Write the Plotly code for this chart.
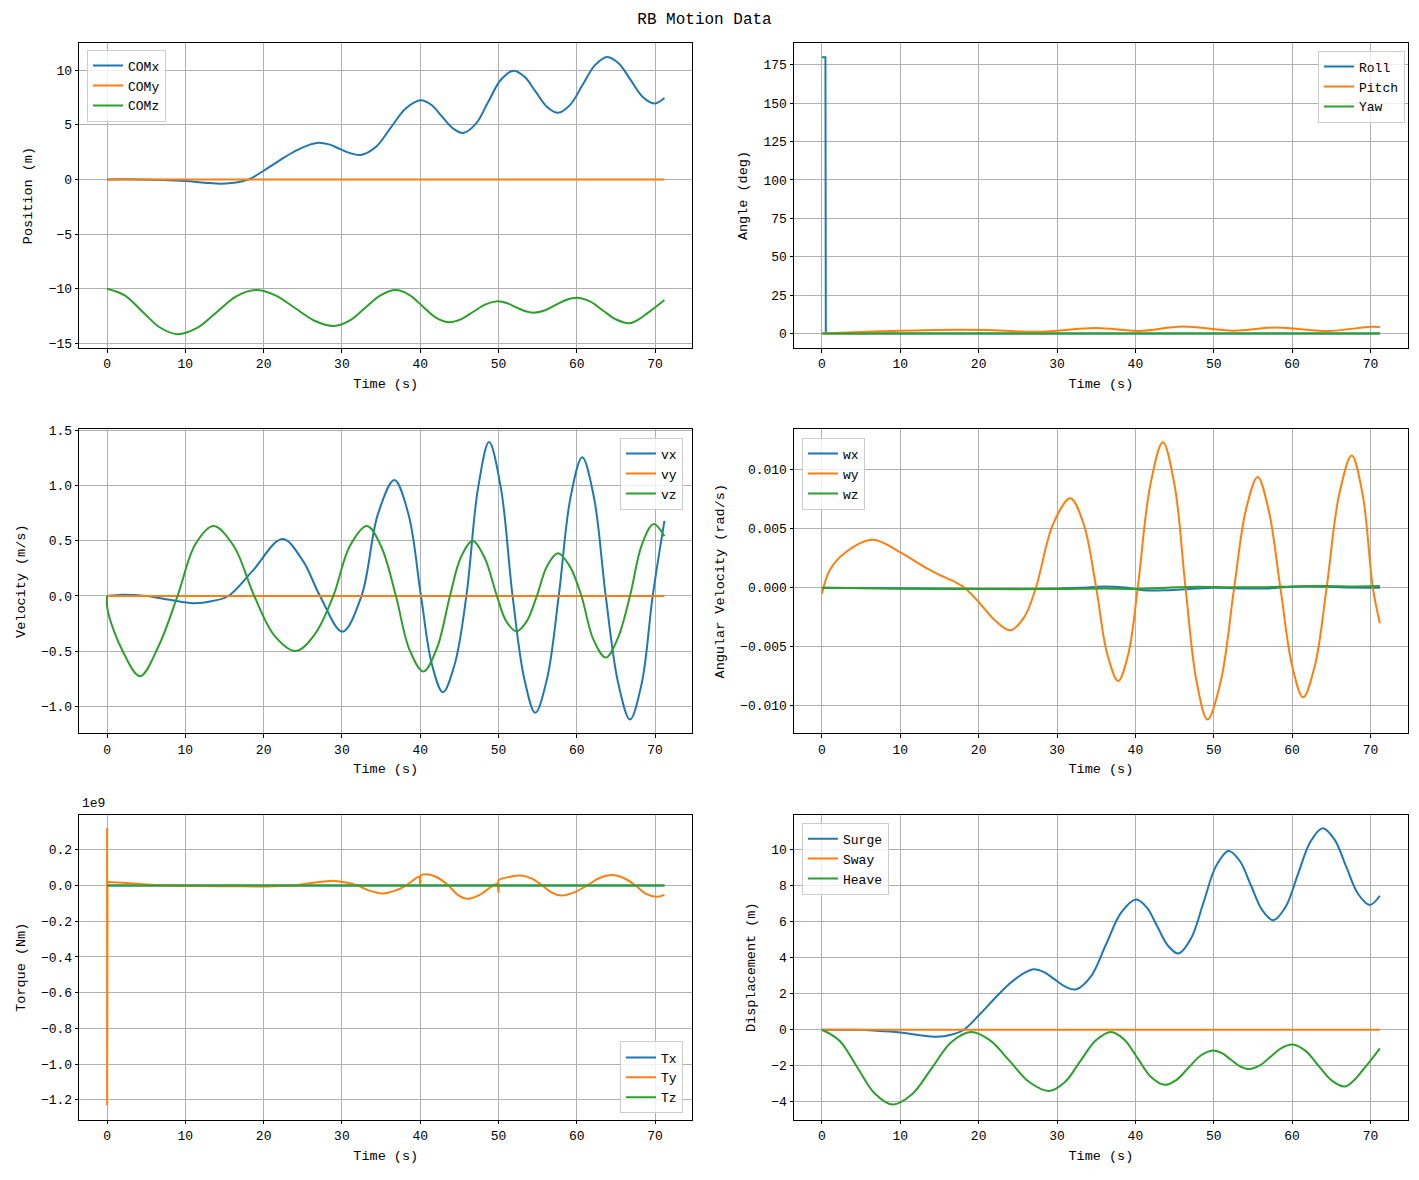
from plotly.subplots import make_subplots
import plotly.graph_objects as go

# ---- data (time in s) ----
# Position
comx_t = [0, 4, 7, 10, 12.5, 14.6, 16.5, 18.1, 20, 22.5, 24.2, 26.0, 27.0, 28.35, 29.7, 31.05,
          32.4, 34.33, 36.25, 38.18, 40.1, 41.45, 42.8, 44.15, 45.5, 47.1, 48.7, 50.3, 51.9,
          53.33, 54.75, 56.18, 57.6, 59.18, 60.75, 62.33, 63.9, 65.4, 66.9, 68.4, 69.9, 71.2]
comx = [0, 0.0, -0.05, -0.15, -0.3, -0.39, -0.28, 0.0, 0.79, 1.95, 2.65, 3.2, 3.36, 3.2, 2.8,
        2.4, 2.24, 2.97, 4.74, 6.51, 7.24, 6.8, 5.74, 4.68, 4.24, 5.07, 7.09, 9.11, 9.94, 9.38,
        8.02, 6.65, 6.09, 6.84, 8.65, 10.45, 11.2, 10.58, 9.07, 7.56, 6.94, 7.45]
comy_t = [0, 71.2]
comy = [0, 0]
comz_t = [0, 2.25, 4.5, 6.75, 9.0, 11.5, 14.0, 16.5, 19.0, 21.5, 24.0, 26.5, 29.0, 30.98, 32.95,
          34.93, 36.9, 38.6, 40.3, 42.0, 43.7, 45.25, 46.8, 48.35, 49.9, 51.05, 52.2, 53.35,
          54.5, 55.88, 57.25, 58.63, 60.0, 61.68, 63.35, 65.03, 66.7, 67.8, 69.0, 70.2, 71.2]
comz = [-10.0, -10.61, -12.08, -13.54, -14.15, -13.58, -12.14, -10.69, -10.12, -10.6, -11.76,
        -12.92, -13.4, -12.92, -11.76, -10.6, -10.12, -10.55, -11.59, -12.63, -13.06, -12.78,
        -12.1, -11.43, -11.15, -11.3, -11.67, -12.03, -12.18, -11.98, -11.5, -11.02, -10.82,
        -11.16, -11.99, -12.81, -13.15, -12.85, -12.25, -11.6, -11.03]

# Angles (deg)
roll_t = [0, 0.45, 0.5, 71.2]
roll = [180, 180, 0, 0]
pitch_t = [0, 5, 10, 17, 21, 27.5, 35, 40.5, 46, 52.5, 58, 64.5, 70, 71.2]
pitch = [0, 0.9, 1.8, 2.5, 2.3, 1.1, 3.5, 1.6, 4.6, 1.8, 3.9, 1.6, 4.4, 4.3]
yaw_t = [0, 71.2]
yaw = [0, 0]

# Velocity (m/s)
vx_t = [0, 2, 5, 8, 11, 13.5, 15.5, 18.5, 22.4, 25.0, 27.2, 30.05, 32.5, 34.6, 36.7, 38.5,
        40.1, 41.5, 42.9, 44.4, 45.9, 47.4, 48.8, 50.3, 51.8, 53.3, 54.7, 56.2, 57.7, 59.2,
        60.7, 62.2, 63.7, 65.3, 66.8, 68.3, 69.7, 71.2]
vx = [0, 0.012, 0.0, -0.035, -0.065, -0.045, 0.0, 0.22, 0.515, 0.32, 0.0, -0.323, 0.0, 0.74,
      1.048, 0.74, 0.0, -0.62, -0.871, -0.62, 0.0, 0.98, 1.392, 0.98, 0.0, -0.75, -1.057,
      -0.75, 0.0, 0.89, 1.254, 0.89, 0.0, -0.79, -1.117, -0.79, 0.0, 0.68]
vy_t = [0, 71.2]
vy = [0, 0]
vz_t = [0, 0.08, 2.0, 4.2, 6.6, 9.0, 11.3, 13.6, 16.2, 18.8, 21.4, 24.1, 26.5, 28.9, 31.0,
        33.2, 35.0, 36.9, 38.6, 40.4, 42.1, 43.8, 45.2, 46.7, 48.2, 49.8, 51.0, 52.3, 53.6,
        54.9, 56.2, 57.6, 59.1, 60.6, 62.1, 63.7, 65.2, 66.8, 68.3, 69.8, 71.2]
vz = [0, -0.13, -0.5, -0.725, -0.45, 0.0, 0.47, 0.632, 0.45, 0.0, -0.36, -0.497, -0.35, 0.0,
      0.45, 0.632, 0.45, 0.0, -0.48, -0.683, -0.48, 0.0, 0.35, 0.497, 0.35, 0.0, -0.23, -0.32,
      -0.23, 0.0, 0.27, 0.386, 0.27, 0.0, -0.39, -0.557, -0.39, 0.0, 0.46, 0.65, 0.54]

# Angular velocity (rad/s)
wx_t = [0, 10, 20, 28, 33, 36, 39, 41, 44, 47, 50, 54, 57, 60, 63, 66, 71.2]
wx = [0, -0.00005, -0.0001, -0.0001, 0.0, 0.00012, 0.0, -0.0002, -0.0002, -0.0001, 0.0,
      -0.00005, -0.00005, 0.0001, 0.00012, 0.00005, 0.0]
wy_t = [0, 1.0, 3.0, 6.5, 10, 13, 15, 17, 18.2, 20, 22, 24.0, 25.8, 27.3, 29.5, 31.7, 33.4,
        35.0, 36.4, 37.8, 39.1, 40.3, 41.9, 43.5, 45.0, 46.4, 47.8, 49.2, 50.9, 52.6, 54.1,
        55.6, 57.0, 58.5, 60.0, 61.4, 62.9, 64.4, 66.0, 67.6, 69.0, 70.3, 71.2]
wy = [-0.0005, 0.0015, 0.003, 0.00407, 0.003, 0.0018, 0.0011, 0.0005, 0.0, -0.0012, -0.0027,
      -0.0036, -0.0025, 0.0, 0.0054, 0.0076, 0.0054, 0.0, -0.0056, -0.0079, -0.0056, 0.0,
      0.0087, 0.01234, 0.0087, 0.0, -0.0079, -0.01116, -0.0079, 0.0, 0.0066, 0.0094, 0.0066,
      0.0, -0.0066, -0.00928, -0.0066, 0.0, 0.0079, 0.01122, 0.0079, 0.0, -0.003]
wz_t = [0, 10, 20, 30, 36, 40, 44, 48, 52, 56, 60, 64, 68, 71.2]
wz = [0, -0.00005, -0.0001, -0.0001, -0.00005, -0.0001, 0.0, 0.0001, 0.00005, 0.00005,
      0.00012, 0.00015, 0.00012, 0.00015]

# Torque (units of 1e9 Nm)
tx_t = [0, 71.2]
tx = [0, 0]
ty_spike_t = [0, 0.01, 0.05]
ty_spike = [0.32, -1.23, 0.02]
ty_t = [0.05, 2, 5, 8, 12, 16, 20, 23, 25.5, 28.5, 30.5, 32, 33.6, 35.2, 36.7, 38.2, 39.95,
        40.0, 40.05, 40.8, 42.2, 43.6, 44.8, 46.0, 47.6, 49.3, 49.95, 50.0, 50.05, 51.3, 52.8,
        54.2, 55.6, 56.8, 58.0, 59.6, 61.3, 62.9, 64.5, 66.0, 67.5, 68.8, 70.2, 71.2]
ty = [0.02, 0.015, 0.006, 0.0, -0.003, -0.004, -0.005, -0.002, 0.01, 0.026, 0.017, 0.0, -0.03,
      -0.044, -0.03, 0.0, 0.05, 0.0, 0.055, 0.063, 0.045, 0.0, -0.052, -0.074, -0.052, 0.0,
      0.01, -0.037, 0.03, 0.047, 0.056, 0.04, 0.0, -0.04, -0.056, -0.04, 0.0, 0.042, 0.059,
      0.042, 0.0, -0.045, -0.063, -0.052]
tz_t = [0, 71.2]
tz = [0, 0]

# Displacement (m)
surge_t = comx_t
surge = comx
sway_t = [0, 71.2]
sway = [0, 0]
heave_t = comz_t
heave = [0.0, -0.61, -2.08, -3.54, -4.15, -3.58, -2.14, -0.69, -0.12, -0.6, -1.76, -2.92, -3.4,
         -2.92, -1.76, -0.6, -0.12, -0.55, -1.59, -2.63, -3.06, -2.78, -2.1, -1.43, -1.15, -1.3,
         -1.67, -2.03, -2.18, -1.98, -1.5, -1.02, -0.82, -1.16, -1.99, -2.81, -3.15, -2.85,
         -2.25, -1.6, -1.03]

C = ['#1f77b4', '#ff7f0e', '#2ca02c']
FONT = "Liberation Mono"

fig = make_subplots(rows=3, cols=2)


def add(row, col, t, y, name, color, legend, shape='spline', show=True):
    fig.add_trace(go.Scatter(x=t, y=y, mode='lines', name=name, legend=legend,
                             showlegend=show, legendgroup=legend + name,
                             line=dict(color=color, width=2, shape=shape, smoothing=1)),
                  row=row, col=col)


add(1, 1, comx_t, comx, 'COMx', C[0], 'legend')
add(1, 1, comy_t, comy, 'COMy', C[1], 'legend')
add(1, 1, comz_t, comz, 'COMz', C[2], 'legend')

add(1, 2, roll_t, roll, 'Roll', C[0], 'legend2', shape='linear')
add(1, 2, pitch_t, pitch, 'Pitch', C[1], 'legend2')
add(1, 2, yaw_t, yaw, 'Yaw', C[2], 'legend2')

add(2, 1, vx_t, vx, 'vx', C[0], 'legend3')
add(2, 1, vy_t, vy, 'vy', C[1], 'legend3')
add(2, 1, vz_t, vz, 'vz', C[2], 'legend3')

add(2, 2, wx_t, wx, 'wx', C[0], 'legend4')
add(2, 2, wy_t, wy, 'wy', C[1], 'legend4')
add(2, 2, wz_t, wz, 'wz', C[2], 'legend4')

add(3, 1, tx_t, tx, 'Tx', C[0], 'legend5')
add(3, 1, ty_spike_t, ty_spike, 'Ty', C[1], 'legend5', shape='linear', show=False)
add(3, 1, ty_t, ty, 'Ty', C[1], 'legend5')
add(3, 1, tz_t, tz, 'Tz', C[2], 'legend5')

add(3, 2, surge_t, surge, 'Surge', C[0], 'legend6')
add(3, 2, sway_t, sway, 'Sway', C[1], 'legend6')
add(3, 2, heave_t, heave, 'Heave', C[2], 'legend6')

W, H = 1419, 1180
xdom = [[79.2 / W, 692.3 / W], [794.0 / W, 1407.8 / W]]
ydom = [[1 - 345.7 / H, 1 - 38.3 / H], [1 - 734.0 / H, 1 - 427.3 / H],
        [1 - 1123.3 / H, 1 - 816.0 / H]]

yset = {
    (1, 1): dict(range=[-15.42, 12.47], dtick=5, title='Position (m)', fmt=''),
    (1, 2): dict(range=[-9.5, 189.2], dtick=25, title='Angle (deg)', fmt=''),
    (2, 1): dict(range=[-1.243, 1.51], dtick=0.5, title='Velocity (m/s)', fmt='.1f'),
    (2, 2): dict(range=[-0.01234, 0.01346], dtick=0.005, title='Angular Velocity (rad/s)', fmt='.3f'),
    (3, 1): dict(range=[-1.311, 0.396], dtick=0.2, title='Torque (Nm)', fmt='.1f'),
    (3, 2): dict(range=[-5.0, 11.95], dtick=2, title='Displacement (m)', fmt=''),
}

axis_style = dict(showline=True, mirror=True, linecolor='black', linewidth=1,
                  ticks='outside', ticklen=3.5, tickwidth=1, tickcolor='black',
                  showgrid=True, gridcolor='#b0b0b0', gridwidth=0.8, zeroline=False,
                  tickfont=dict(family=FONT, size=13, color='black'))

for r in range(1, 4):
    for c in range(1, 3):
        s = yset[(r, c)]
        fig.update_xaxes(domain=xdom[c - 1], range=[-3.56, 74.76], dtick=10, tick0=0,
                         title=dict(text='Time (s)', standoff=7,
                                    font=dict(family=FONT, size=13.5, color='black')),
                         row=r, col=c, **axis_style)
        fig.update_yaxes(domain=ydom[r - 1], range=s['range'], dtick=s['dtick'], tick0=0,
                         tickformat=s['fmt'],
                         title=dict(text=s['title'], standoff=12,
                                    font=dict(family=FONT, size=13.5, color='black')),
                         row=r, col=c, **axis_style)

leg = dict(bgcolor='rgba(255,255,255,0.8)', bordercolor='#cccccc', borderwidth=1,
           font=dict(family=FONT, size=13, color='black'), itemwidth=30, tracegroupgap=0,
           xref='paper', yref='paper')

fig.update_layout(
    width=W, height=H,
    margin=dict(l=0, r=0, t=0, b=0),
    paper_bgcolor='white', plot_bgcolor='white',
    font=dict(family=FONT, size=13, color='black'),
    title=dict(text='RB Motion Data', x=704.5 / W, y=1 - 18 / H, xanchor='center', yanchor='middle',
               font=dict(family=FONT, size=16, color='black')),
    legend=dict(x=87 / W, y=1 - 45 / H, xanchor='left', yanchor='top', **leg),
    legend2=dict(x=1405 / W, y=1 - 46 / H, xanchor='right', yanchor='top', **leg),
    legend3=dict(x=683 / W, y=1 - 436 / H, xanchor='right', yanchor='top', **leg),
    legend4=dict(x=802 / W, y=1 - 436 / H, xanchor='left', yanchor='top', **leg),
    legend5=dict(x=683 / W, y=1 - 1117 / H, xanchor='right', yanchor='bottom', **leg),
    legend6=dict(x=802 / W, y=1 - 824 / H, xanchor='left', yanchor='top', **leg),
    annotations=[dict(text='1e9', xref='paper', yref='paper', x=79.5 / W, y=1 - 814 / H,
                      xanchor='left', yanchor='bottom', showarrow=False,
                      font=dict(family=FONT, size=13, color='black'))],
)

fig.write_html("out.html", config={'displayModeBar': False},
               post_script="document.body.style.margin='0';")
